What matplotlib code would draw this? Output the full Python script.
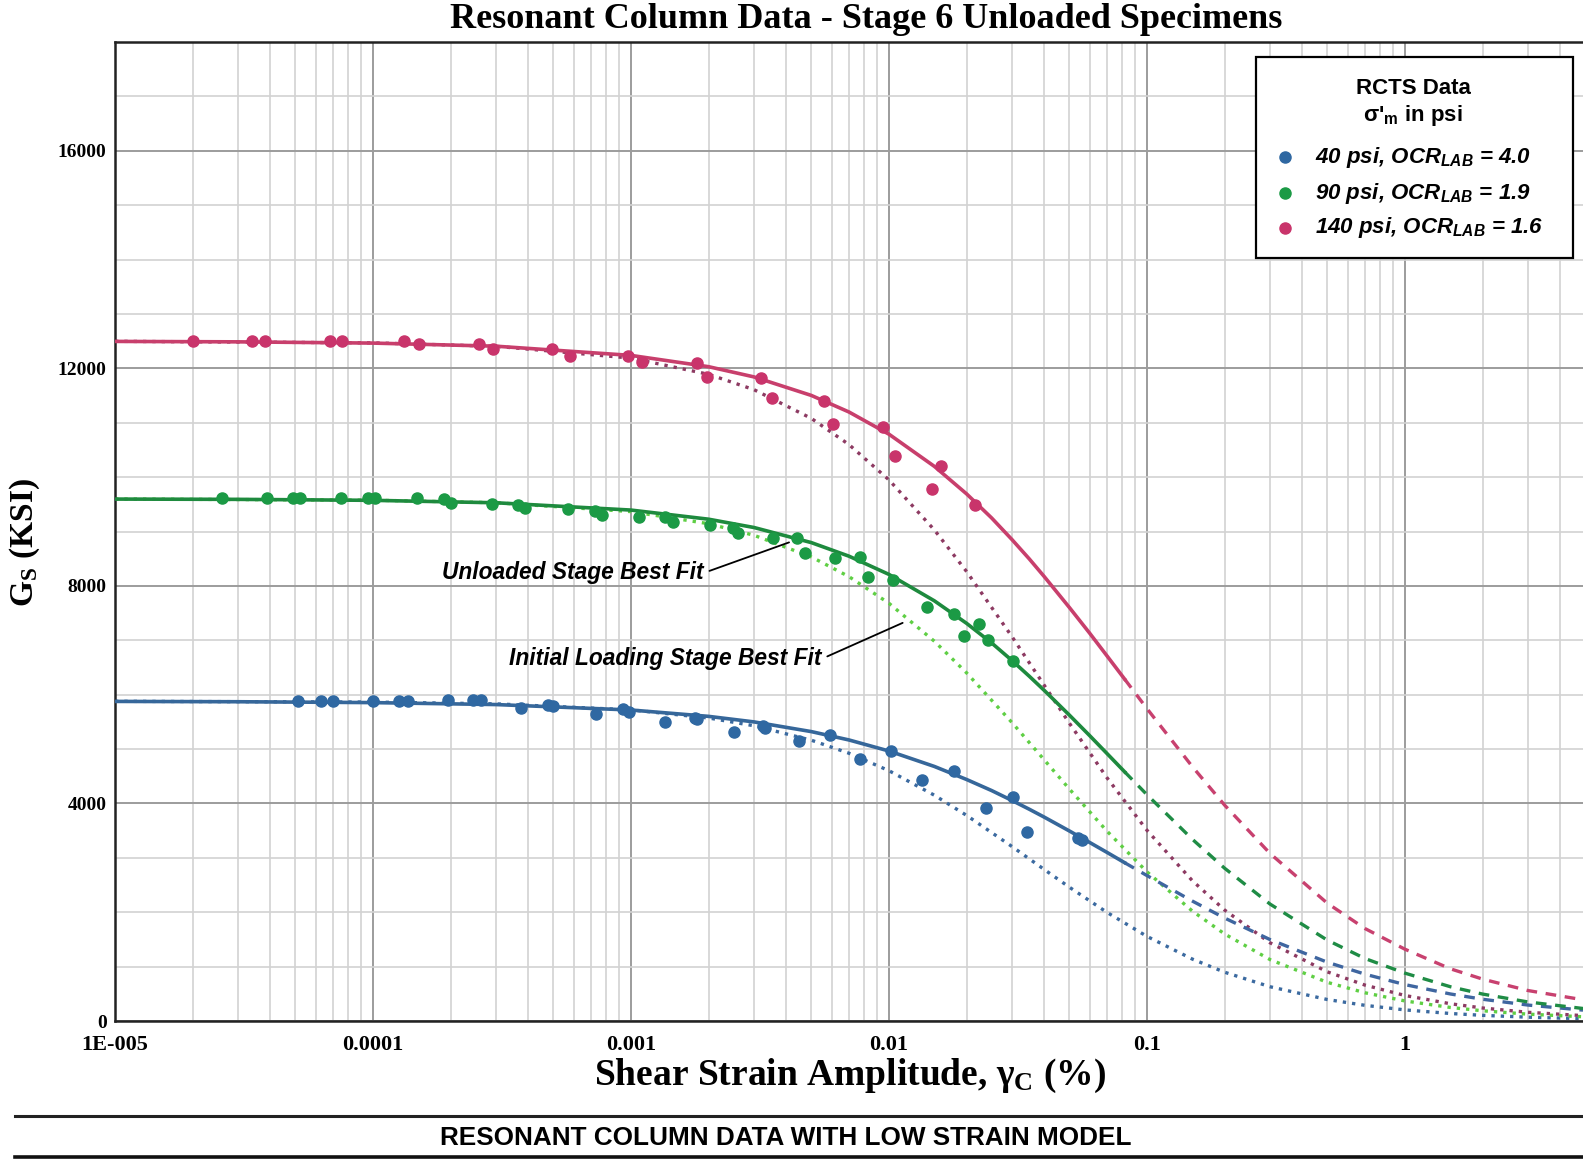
import matplotlib
matplotlib.use("Agg")
import matplotlib.pyplot as plt
from matplotlib.lines import Line2D
from matplotlib.patches import Rectangle
from matplotlib.ticker import LogLocator, MultipleLocator, FixedLocator, FixedFormatter, NullFormatter

plt.rcParams["font.family"] = ["Liberation Serif", "DejaVu Serif"]
plt.rcParams["font.weight"] = "bold"
plt.rcParams["mathtext.fontset"] = "custom"
plt.rcParams["mathtext.rm"] = "Liberation Serif:bold"
plt.rcParams["mathtext.bf"] = "Liberation Serif:bold"
plt.rcParams["mathtext.it"] = "Liberation Sans:italic:bold"
plt.rcParams["mathtext.sf"] = "Liberation Sans:bold"

# ---- measured data points (strain %, G in ksi) ----
blue_x = [5.1e-5, 6.3e-5, 7.0e-5, 1.0e-4, 1.26e-4, 1.37e-4, 1.96e-4, 2.44e-4, 2.62e-4,
          3.75e-4, 4.76e-4, 5.0e-4, 7.3e-4, 9.3e-4, 9.8e-4, 1.35e-3, 1.77e-3, 1.8e-3,
          2.51e-3, 3.26e-3, 3.31e-3, 4.48e-3, 5.9e-3, 7.7e-3, 0.0102, 0.0134, 0.0178,
          0.0238, 0.0302, 0.0342, 0.0542, 0.0558]
blue_y = [5885, 5885, 5885, 5885, 5885, 5885, 5900, 5900, 5900,
          5750, 5810, 5790, 5646, 5740, 5690, 5490, 5580, 5550,
          5320, 5425, 5380, 5140, 5260, 4810, 4970, 4430, 4600,
          3910, 4110, 3480, 3360, 3330]

green_x = [2.6e-5, 3.9e-5, 4.9e-5, 5.2e-5, 7.5e-5, 9.6e-5, 1.02e-4, 1.48e-4, 1.89e-4,
           2.0e-4, 2.88e-4, 3.66e-4, 3.88e-4, 5.7e-4, 7.25e-4, 7.7e-4, 1.07e-3, 1.35e-3,
           1.46e-3, 2.02e-3, 2.49e-3, 2.61e-3, 3.56e-3, 4.39e-3, 4.72e-3, 6.18e-3,
           7.73e-3, 8.3e-3, 0.0104, 0.0141, 0.0178, 0.0196, 0.0223, 0.0242, 0.0303]
green_y = [9610, 9610, 9610, 9610, 9610, 9610, 9610, 9610, 9600,
           9520, 9510, 9490, 9430, 9410, 9385, 9306, 9275, 9263,
           9183, 9122, 9061, 8969, 8877, 8877, 8600, 8510,
           8527, 8160, 8110, 7613, 7491, 7080, 7307, 7000, 6613]

pink_x = [2.0e-5, 3.4e-5, 3.8e-5, 6.8e-5, 7.6e-5, 1.32e-4, 1.51e-4, 2.57e-4, 2.93e-4,
          4.96e-4, 5.8e-4, 9.7e-4, 1.1e-3, 1.8e-3, 1.97e-3, 3.19e-3, 3.52e-3, 5.6e-3,
          6.07e-3, 9.5e-3, 0.01054, 0.0147, 0.0159, 0.0215]
pink_y = [12510, 12510, 12510, 12510, 12510, 12510, 12450, 12450, 12360,
          12350, 12230, 12230, 12110, 12100, 11840, 11830, 11460, 11400,
          10980, 10920, 10390, 9780, 10210, 9490]

# ---- curves ----
solid_x = [1e-5, 3e-5, 1e-4, 3e-4, 1e-3, 2e-3, 3e-3, 5e-3, 7e-3, 0.01, 0.015, 0.02,
           0.025, 0.03, 0.035, 0.04, 0.05, 0.06, 0.07, 0.082]
blue_solid = [5876, 5870, 5854, 5818, 5718, 5601, 5499, 5321, 5167, 4964, 4680, 4440,
              4237, 4054, 3893, 3748, 3495, 3282, 3100, 2910]
green_solid = [9596, 9591, 9573, 9528, 9394, 9226, 9073, 8796, 8546, 8211, 7725, 7311,
               6951, 6627, 6338, 6078, 5626, 5246, 4918, 4580]
pink_solid = [12495, 12487, 12464, 12407, 12238, 12030, 11842, 11502, 11197, 10789, 10197, 9691,
              9249, 8850, 8495, 8170, 7605, 7129, 6713, 6284]

dash_x = [0.082, 0.1, 0.15, 0.2, 0.3, 0.5, 0.7, 1.0, 1.5, 2.0, 3.0, 4.9]
blue_dash = [2910, 2674, 2205, 1893, 1497, 1081, 861, 669, 497, 400, 293, 200]
green_dash = [4580, 4161, 3341, 2809, 2150, 1487, 1149, 880, 630, 495, 350, 230]
pink_dash = [6284, 5744, 4676, 3969, 3080, 2166, 1700, 1320, 960, 770, 560, 390]

dot_x = [1e-5, 1e-4, 3e-4, 1e-3, 2e-3, 3e-3, 5e-3, 7e-3, 0.01, 0.015, 0.02, 0.03, 0.04,
         0.05, 0.07, 0.1, 0.15, 0.2, 0.3, 0.5, 0.7, 1.0, 1.5, 2.0, 3.0, 4.9]
blue_dot = [5878, 5864, 5831, 5721, 5571, 5428, 5163, 4923, 4602, 4151, 3780, 3207, 2785,
            2461, 1997, 1556, 1138, 897, 630, 395, 288, 204, 138, 104, 70, 43]
green_dot = [9598, 9576, 9529, 9366, 9143, 8930, 8533, 8170, 7680, 6982, 6400, 5486, 4800,
             4267, 3491, 2743, 2021, 1600, 1129, 711, 519, 369, 249, 188, 126, 78]
pink_dot = [12497, 12468, 12405, 12188, 11890, 11607, 11080, 10598, 9949, 9028, 8263, 7065, 6171,
            5478, 4472, 3507, 2579, 2040, 1438, 904, 660, 469, 317, 239, 160, 99]

labels = ["40 psi, OCR$_{LAB}$ = 4.0", "90 psi, OCR$_{LAB}$ = 1.9", "140 psi, OCR$_{LAB}$ = 1.6"]
tick_vals = [1e-5, 1e-4, 1e-3, 1e-2, 1e-1, 1]
tick_text = ["1E-005", "0.0001", "0.001", "0.01", "0.1", "1"]

c_blue, c_green, c_pink = "#2f68a2", "#1b9a45", "#c9346b"

fig = plt.figure(figsize=(15.83, 11.59), dpi=100)
ax = fig.add_axes([115 / 1583, 1 - 1021 / 1159, 1 - 115 / 1583, (1021 - 42) / 1159])

ax.set_xscale("log")
ax.set_xlim(1e-5, 4.9)
ax.set_ylim(0, 18000)

# dotted = initial loading fits
ax.plot(dot_x, blue_dot, color="#3b6aa0", lw=2.4, ls=(0, (1, 1.8)), zorder=2)
ax.plot(dot_x, green_dot, color="#5fcf44", lw=2.4, ls=(0, (1, 1.8)), zorder=2)
ax.plot(dot_x, pink_dot, color="#8d3a62", lw=2.4, ls=(0, (1, 1.8)), zorder=2)
# dashed extensions
ax.plot(dash_x, blue_dash, color="#3f66a0", lw=2.4, ls=(0, (3.2, 2.6)), zorder=2)
ax.plot(dash_x, green_dash, color="#1f8c45", lw=2.4, ls=(0, (3.2, 2.6)), zorder=2)
ax.plot(dash_x, pink_dash, color="#c8416f", lw=2.4, ls=(0, (3.2, 2.6)), zorder=2)
# solid unloaded fits
ax.plot(solid_x, blue_solid, color="#36679a", lw=2.6, zorder=3)
ax.plot(solid_x, green_solid, color="#1e8a3e", lw=2.6, zorder=3)
ax.plot(solid_x, pink_solid, color="#c83f6c", lw=2.6, zorder=3)

ax.plot(blue_x, blue_y, "o", ms=8, color=c_blue, zorder=5)
ax.plot(green_x, green_y, "o", ms=8, color=c_green, zorder=5)
ax.plot(pink_x, pink_y, "o", ms=8, color=c_pink, zorder=5)

# grid and ticks
ax.xaxis.set_major_locator(FixedLocator(tick_vals))
ax.xaxis.set_major_formatter(FixedFormatter(tick_text))
ax.xaxis.set_minor_locator(LogLocator(base=10, subs=range(2, 10), numticks=20))
ax.xaxis.set_minor_formatter(NullFormatter())
ax.yaxis.set_major_locator(MultipleLocator(4000))
ax.yaxis.set_minor_locator(MultipleLocator(1000))
ax.grid(which="major", color="#9c9c9c", lw=1.4)
ax.grid(which="minor", color="#d2d2d2", lw=1.2)
ax.set_axisbelow(True)
ax.tick_params(which="both", length=0)
ax.tick_params(axis="x", labelsize=16, pad=10)
ax.tick_params(axis="y", labelsize=14, pad=6)
for lab in ax.get_xticklabels() + ax.get_yticklabels():
    lab.set_fontweight("bold")

for s in ["left", "bottom", "top"]:
    ax.spines[s].set_linewidth(1.8)
    ax.spines[s].set_color("#222222")
ax.spines["right"].set_visible(False)

# annotations
ann_font = dict(fontsize=16.4, fontweight="bold", fontstyle="italic", family="Liberation Sans")
ax.annotate("Unloaded Stage Best Fit", xy=(4.1e-3, 8800), xytext=(1.92e-3, 8240),
            ha="right", va="center",
            arrowprops=dict(arrowstyle="-", lw=1.3, color="black", relpos=(1, 0.5),
                            shrinkA=2, shrinkB=0), **ann_font)
ax.annotate("Initial Loading Stage Best Fit", xy=(0.0113, 7320), xytext=(5.5e-3, 6660),
            ha="right", va="center",
            arrowprops=dict(arrowstyle="-", lw=1.3, color="black", relpos=(1, 0.5),
                            shrinkA=2, shrinkB=0), **ann_font)

# legend box (drawn in axes fraction)
def fx(px):
    return (px - 115) / 1468


def fy(py):
    return (1021 - py) / 979


ax.add_patch(Rectangle((fx(1256), fy(258)), fx(1573) - fx(1256), fy(57) - fy(258),
                       transform=ax.transAxes, facecolor="white", edgecolor="black",
                       lw=1.6, zorder=10))
leg_sans = dict(family="Liberation Sans", fontweight="bold", fontsize=16, transform=ax.transAxes,
                zorder=11)
ax.text(fx(1413), fy(88), "RCTS Data", ha="center", va="center", **leg_sans)
ax.text(fx(1413), fy(115), "σ'$_{\\mathsf{m}}$ in psi", ha="center", va="center", **leg_sans)
for lab, c, py in zip(labels, (c_blue, c_green, c_pink), (157, 193, 228)):
    ax.plot([fx(1285)], [fy(py)], "o", ms=8, color=c, transform=ax.transAxes,
            clip_on=False, zorder=11)
    ax.text(fx(1315), fy(py), lab, ha="left", va="center", fontstyle="italic", **leg_sans)

# titles
fig.text(866 / 1583, 1 - 20 / 1159, "Resonant Column Data - Stage 6 Unloaded Specimens",
         ha="center", va="center", fontsize=26, fontweight="bold")
fig.text(850 / 1583, 1 - 1076 / 1159, "Shear Strain Amplitude, $\\mathrm{\\gamma_C}$ (%)",
         ha="center", va="center", fontsize=27, fontweight="bold")
fig.text(25 / 1583, 1 - 543 / 1159, "$\\mathrm{G_S}$ (KSI)", rotation=90,
         ha="center", va="center", fontsize=24, fontweight="bold")

# bottom banner
fig.add_artist(Line2D([15 / 1583, 1], [1 - 1116 / 1159] * 2, color="#222222", lw=2.2))
fig.add_artist(Line2D([15 / 1583, 1], [1 - 1157 / 1159] * 2, color="#111111", lw=2.6))
fig.text(786 / 1583, 1 - 1138 / 1159, "RESONANT COLUMN DATA WITH LOW STRAIN MODEL",
         ha="center", va="center", fontsize=18.8, fontweight="bold", family="Liberation Sans")

fig.savefig("out.png", dpi=100, facecolor="white")
